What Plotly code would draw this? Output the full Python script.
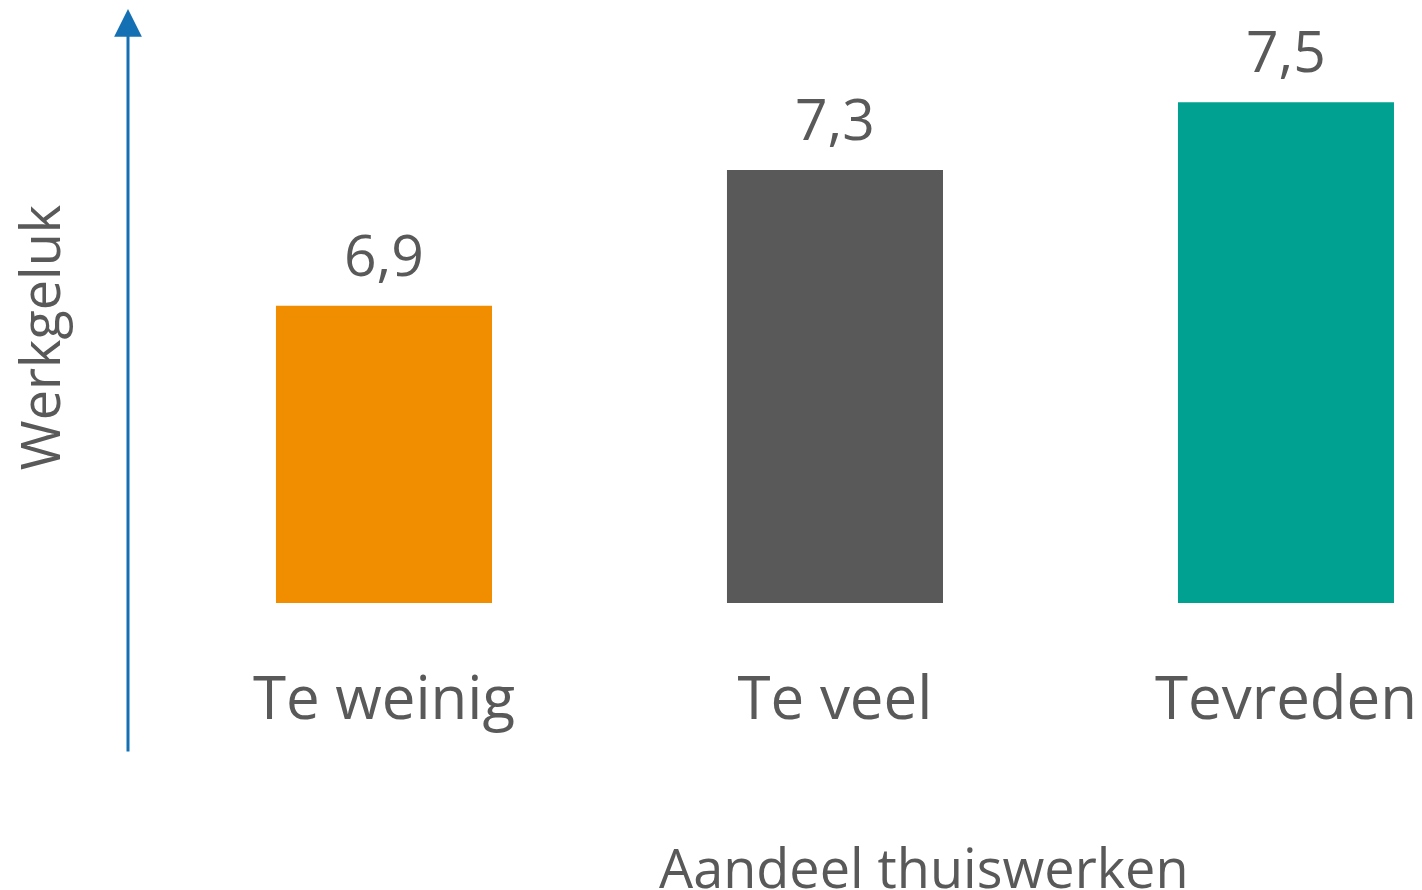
import plotly.graph_objects as go

categories = ["Te weinig", "Te veel", "Tevreden"]
values = [6.9, 7.3, 7.5]
bar_colors = ["#F18E00", "#595959", "#00A191"]
y_title = "Werkgeluk"
x_title = "Aandeel thuiswerken"

TEXT = "#595959"
FONT = "Open Sans"

fig = go.Figure(
    go.Bar(
        x=categories,
        y=values,
        marker=dict(color=bar_colors, line=dict(width=0)),
        width=0.479,
        hoverinfo="skip",
    )
)

value_labels = [
    dict(
        x=c, y=v, xref="x", yref="y",
        text=f"{v:.1f}".replace(".", ","),
        showarrow=False, xanchor="center", yanchor="bottom", yshift=11,
        font=dict(family=FONT, size=57, color=TEXT),
    )
    for c, v in zip(categories, values)
]

fig.update_layout(
    width=1414,
    height=882,
    margin=dict(l=120, r=0, t=0, b=287),
    paper_bgcolor="white",
    plot_bgcolor="white",
    showlegend=False,
    font=dict(family=FONT, color=TEXT, size=56),
    xaxis=dict(
        range=[-0.5676, 2.3016],
        showgrid=False,
        zeroline=False,
        showline=False,
        ticks="",
        tickfont=dict(family=FONT, size=60, color=TEXT),
        ticklabelstandoff=55,
    ),
    yaxis=dict(
        range=[6.023, 7.778],
        showgrid=False,
        zeroline=False,
        showline=False,
        showticklabels=False,
        ticks="",
    ),
    annotations=[
        dict(
            x=0, y=1, xref="paper", yref="paper",
            ax=0, ay=745, axref="pixel", ayref="pixel",
            showarrow=True, arrowhead=2, arrowwidth=3, arrowsize=1.85,
            arrowcolor="#1570B3", text="",
        ),
        dict(
            x=0, y=0.445, xref="paper", yref="paper",
            xshift=-89, textangle=-90, showarrow=False,
            text=y_title, font=dict(family=FONT, size=54, color=TEXT),
            xanchor="center", yanchor="middle",
        ),
        dict(
            x=0.615, y=-0.443, xref="paper", yref="paper",
            showarrow=False, text=x_title,
            font=dict(family=FONT, size=54, color=TEXT),
            xanchor="center", yanchor="middle",
        ),
    ] + value_labels,
)

fig.write_html("out.html")
